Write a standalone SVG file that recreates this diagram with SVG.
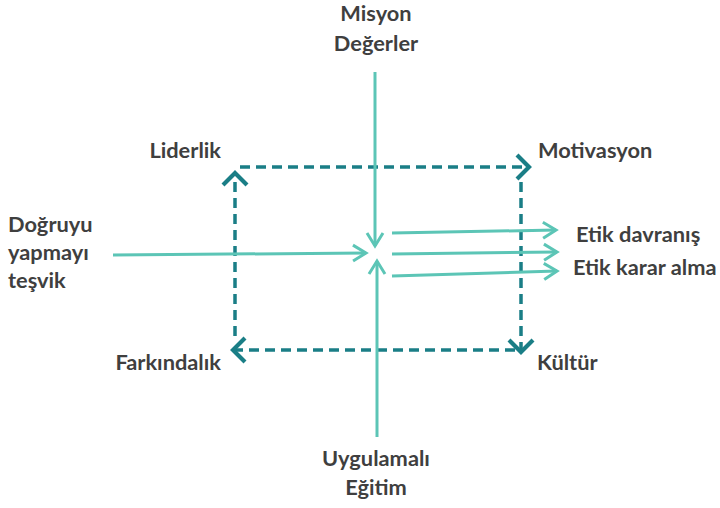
<svg xmlns="http://www.w3.org/2000/svg" width="720" height="508" viewBox="0 0 720 508">
<style>
.t{font-family:Lato,"Open Sans","Liberation Sans",sans-serif;font-weight:bold;font-size:21.8px;fill:#3f3f3f}
.d{fill:none;stroke:#1a7e86;stroke-width:3.5;stroke-dasharray:10 6}
.l{fill:none;stroke:#5cc5b6;stroke-width:3}
</style>
<defs>
<marker id="ad" markerUnits="userSpaceOnUse" viewBox="-20 -20 40 40" markerWidth="40" markerHeight="40" refX="0" refY="0" orient="auto">
<path d="M-12,-12 L0,0 L-12,12" fill="none" stroke="#1a7e86" stroke-width="4.2"/>
</marker>
<marker id="al" markerUnits="userSpaceOnUse" viewBox="-20 -20 40 40" markerWidth="40" markerHeight="40" refX="0" refY="0" orient="auto">
<path d="M-13,-8 L0,0 L-13,8" fill="none" stroke="#5cc5b6" stroke-width="3"/>
</marker>
</defs>
<rect width="720" height="508" fill="#ffffff"/>
<g id="connectors">
<path class="d" d="M235,336 V173" marker-end="url(#ad)"/>
<path class="d" d="M240,167 H529" marker-end="url(#ad)"/>
<path class="d" d="M521,182 V352" marker-end="url(#ad)"/>
<path class="d" d="M515,350 H233" marker-end="url(#ad)"/>
<path class="l" d="M375,72 V246" marker-end="url(#al)"/>
<path class="l" d="M377,437 V261" marker-end="url(#al)"/>
<path class="l" d="M113,255 L366,253" marker-end="url(#al)"/>
<path class="l" d="M392,233 L556,230" marker-end="url(#al)"/>
<path class="l" d="M392,254 L557,252" marker-end="url(#al)"/>
<path class="l" d="M392,276 L557,271" marker-end="url(#al)"/>
</g>
<g id="misyon"><text class="t" x="376" y="21" text-anchor="middle">Misyon</text><text class="t" x="376" y="51" text-anchor="middle">Değerler</text></g>
<g id="liderlik"><text class="t" x="221" y="158" text-anchor="end">Liderlik</text></g>
<g id="motivasyon"><text class="t" x="538" y="158">Motivasyon</text></g>
<g id="dogruyu"><text class="t" x="8" y="232">Doğruyu</text><text class="t" x="8" y="260">yapmayı</text><text class="t" x="8" y="288">teşvik</text></g>
<g id="etik"><text class="t" x="576" y="242">Etik davranış</text><text class="t" x="573" y="275">Etik karar alma</text></g>
<g id="farkindalik"><text class="t" x="221" y="370" text-anchor="end">Farkındalık</text></g>
<g id="kultur"><text class="t" x="537" y="370">Kültür</text></g>
<g id="uygulamali"><text class="t" x="376" y="466" text-anchor="middle">Uygulamalı</text><text class="t" x="376" y="495" text-anchor="middle">Eğitim</text></g>
</svg>
